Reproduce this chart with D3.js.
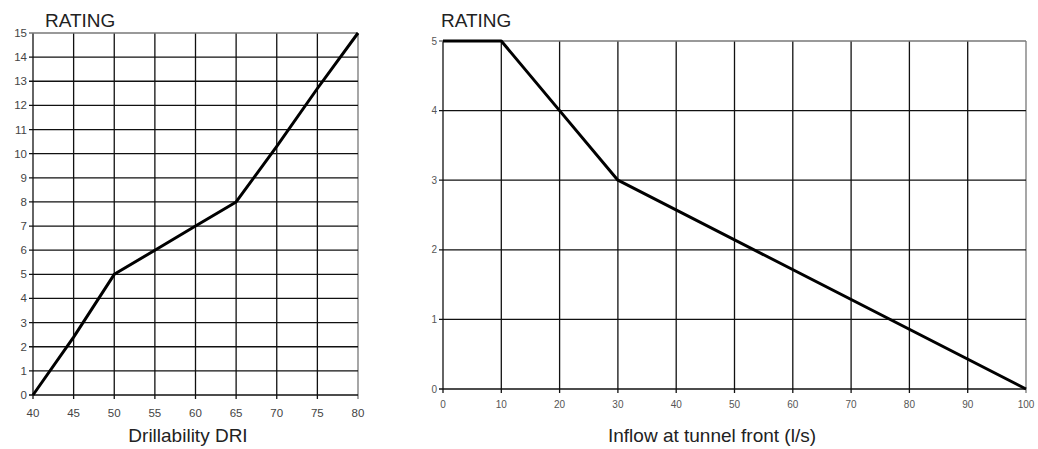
<!DOCTYPE html>
<html>
<head>
<meta charset="utf-8">
<script src="https://cdn.jsdelivr.net/npm/d3@7"></script>
<style>
  body { margin: 0; background: #fff; }
  svg { display: block; font-family: "Liberation Sans", Arial, sans-serif; }
</style>
</head>
<body>
<div id="chart"></div>
<script>
// left chart: rating vs drillability
const driX = [40, 45, 50, 55, 60, 65, 70, 75, 80];
const driRating = [0, 2.4, 5, 6, 7, 8, 10.3, 12.7, 15];
const driXTicks = [40, 45, 50, 55, 60, 65, 70, 75, 80];
const driYTicks = d3.range(0, 16);

// right chart: rating vs inflow
const inflowX = [0, 10, 20, 30, 100];
const inflowRating = [5, 5, 4, 3, 0];
const inflowXTicks = [0, 10, 20, 30, 40, 50, 60, 70, 80, 90, 100];
const inflowYTicks = [0, 1, 2, 3, 4, 5];

const width = 1038, height = 449;

const svg = d3.select("#chart").append("svg")
    .attr("width", width)
    .attr("height", height);

function drawPanel(opts) {
  const x = d3.scaleLinear().domain(opts.xDomain).range([opts.left, opts.right]);
  const y = d3.scaleLinear().domain(opts.yDomain).range([opts.bottom, opts.top]);
  const g = svg.append("g");

  // grid
  g.append("g").selectAll("line.v")
    .data(opts.xTicks)
    .enter().append("line")
      .attr("x1", d => x(d)).attr("x2", d => x(d))
      .attr("y1", opts.top).attr("y2", opts.bottom + 4)
      .attr("stroke", (d, i) => i === opts.xTicks.length - 1 ? "#777" : "#111")
      .attr("stroke-width", 1.3);

  g.append("g").selectAll("line.h")
    .data(opts.yTicks)
    .enter().append("line")
      .attr("x1", opts.left - 4).attr("x2", opts.right)
      .attr("y1", d => y(d)).attr("y2", d => y(d))
      .attr("stroke", (d, i) => i === opts.yTicks.length - 1 ? "#777" : "#111")
      .attr("stroke-width", 1.3);

  // tick labels
  g.append("g").selectAll("text")
    .data(opts.yTicks)
    .enter().append("text")
      .attr("x", opts.left - 6)
      .attr("y", d => y(d))
      .attr("dy", "0.35em")
      .attr("text-anchor", "end")
      .attr("font-size", opts.tickSize)
      .attr("fill", opts.tickColor)
      .text(d => d);

  g.append("g").selectAll("text")
    .data(opts.xTicks)
    .enter().append("text")
      .attr("x", d => x(d))
      .attr("y", opts.bottom + opts.xTickOffset)
      .attr("text-anchor", "middle")
      .attr("font-size", opts.tickSize)
      .attr("fill", opts.tickColor)
      .text(d => d);

  // line
  const line = d3.line().x(d => x(d[0])).y(d => y(d[1]));
  g.append("path")
    .datum(d3.zip(opts.xs, opts.ys))
    .attr("d", line)
    .attr("fill", "none")
    .attr("stroke", "#000")
    .attr("stroke-width", 3)
    .attr("stroke-linejoin", "round");

  // titles
  g.append("text")
    .attr("x", opts.ratingX)
    .attr("y", opts.ratingY)
    .attr("font-size", 19)
    .attr("fill", "#222")
    .text("RATING");

  g.append("text")
    .attr("x", opts.titleX)
    .attr("y", opts.titleY)
    .attr("text-anchor", "middle")
    .attr("font-size", 19)
    .attr("fill", "#222")
    .text(opts.title);
}

drawPanel({
  xDomain: [40, 80], yDomain: [0, 15],
  left: 33, right: 358, top: 33, bottom: 395,
  xTicks: driXTicks, yTicks: driYTicks,
  xs: driX, ys: driRating,
  tickSize: 11.5, tickColor: "#444", xTickOffset: 22,
  ratingX: 45, ratingY: 27,
  title: "Drillability DRI", titleX: 188, titleY: 442
});

drawPanel({
  xDomain: [0, 100], yDomain: [0, 5],
  left: 443, right: 1026, top: 41, bottom: 389,
  xTicks: inflowXTicks, yTicks: inflowYTicks,
  xs: inflowX, ys: inflowRating,
  tickSize: 10, tickColor: "#555", xTickOffset: 19,
  ratingX: 441, ratingY: 27,
  title: "Inflow at tunnel front (l/s)", titleX: 712, titleY: 442
});
</script>
</body>
</html>
